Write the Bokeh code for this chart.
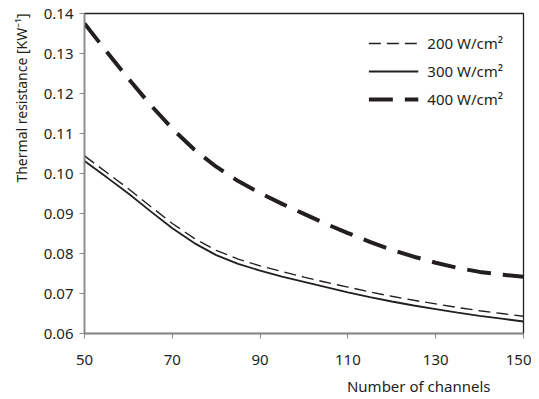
from bokeh.plotting import figure
from bokeh.models import Title, Legend, LegendItem, FixedTicker, NumeralTickFormatter, Range1d
from bokeh.embed import file_html
from bokeh.resources import INLINE

channels = [50, 55, 60, 65, 70, 75, 80, 85, 90, 95, 100, 105, 110, 115, 120, 125, 130, 135, 140, 145, 150]
r_200 = [0.1044, 0.1003, 0.0962, 0.0918, 0.0875, 0.0838, 0.0808, 0.0786, 0.0769, 0.0755, 0.0741,
         0.0728, 0.0716, 0.0704, 0.0693, 0.0683, 0.0674, 0.0665, 0.0657, 0.0650, 0.0643]
r_300 = [0.1031, 0.0991, 0.0950, 0.0906, 0.0863, 0.0826, 0.0796, 0.0774, 0.0757, 0.0742, 0.0729,
         0.0716, 0.0703, 0.0691, 0.0680, 0.0670, 0.0661, 0.0652, 0.0644, 0.0637, 0.0630]
r_400 = [0.1375, 0.1305, 0.1237, 0.1172, 0.1112, 0.1060, 0.1017, 0.0981, 0.0951, 0.0924, 0.0899,
         0.0874, 0.0851, 0.0829, 0.0809, 0.0792, 0.0777, 0.0764, 0.0754, 0.0747, 0.0742]
series_labels = ["200 W/cm²", "300 W/cm²", "400 W/cm²"]
x_ticks = [50, 70, 90, 110, 130, 150]
y_ticks = [0.06, 0.07, 0.08, 0.09, 0.10, 0.11, 0.12, 0.13, 0.14]
x_title = "Number of channels"
y_title = "Thermal resistance [KW⁻¹]"

FONT = "Noto Sans"
TXT = "#231f20"
FS = "15px"

p = figure(width=531, height=398, output_backend="svg", toolbar_location=None,
           x_range=Range1d(50, 150), y_range=Range1d(0.06, 0.14),
           min_border_left=84, min_border_right=8, min_border_top=13, min_border_bottom=65)
p.frame_width = 439
p.frame_height = 320
p.xgrid.visible = False
p.ygrid.visible = False
p.outline_line_color = "#231f20"
p.outline_line_width = 1.3

for ax in (p.xaxis[0], p.yaxis[0]):
    ax.axis_line_color = "#8a8a8a"
    ax.axis_line_width = 1.5
    ax.major_tick_line_color = "#8a8a8a"
    ax.major_tick_in = 0
    ax.major_tick_out = 5
    ax.minor_tick_line_color = None
    ax.major_label_text_font = FONT
    ax.major_label_text_font_size = FS
    ax.major_label_text_color = TXT

p.xaxis[0].ticker = FixedTicker(ticks=x_ticks)
p.yaxis[0].ticker = FixedTicker(ticks=y_ticks)
p.yaxis[0].formatter = NumeralTickFormatter(format="0.00")
p.xaxis[0].major_label_standoff = 16
p.yaxis[0].major_label_standoff = 6

l200 = p.line(channels, r_200, line_color="#231f20", line_width=1.4, line_dash="12 6")
l300 = p.line(channels, r_300, line_color="#231f20", line_width=1.8)
l400 = p.line(channels, r_400, line_color="#231f20", line_width=4, line_dash="24 12")

legend = Legend(items=[LegendItem(label=series_labels[0], renderers=[l200]),
                       LegendItem(label=series_labels[1], renderers=[l300]),
                       LegendItem(label=series_labels[2], renderers=[l400])],
                location="top_right", border_line_color=None, background_fill_alpha=0,
                label_text_font=FONT, label_text_font_size=FS, label_text_color=TXT,
                glyph_width=50, glyph_height=20, label_height=20, spacing=8,
                label_standoff=9, margin=20, padding=12)
p.add_layout(legend)

p.add_layout(Title(text=x_title, align="right", offset=33, text_font=FONT, text_font_size=FS,
                   text_font_style="normal", text_color=TXT, standoff=12), "below")
p.add_layout(Title(text=y_title, align="right", text_font=FONT, text_font_size="14px",
                   text_font_style="normal", text_color=TXT, standoff=19), "left")

open("out.html", "w").write(file_html(p, INLINE))
